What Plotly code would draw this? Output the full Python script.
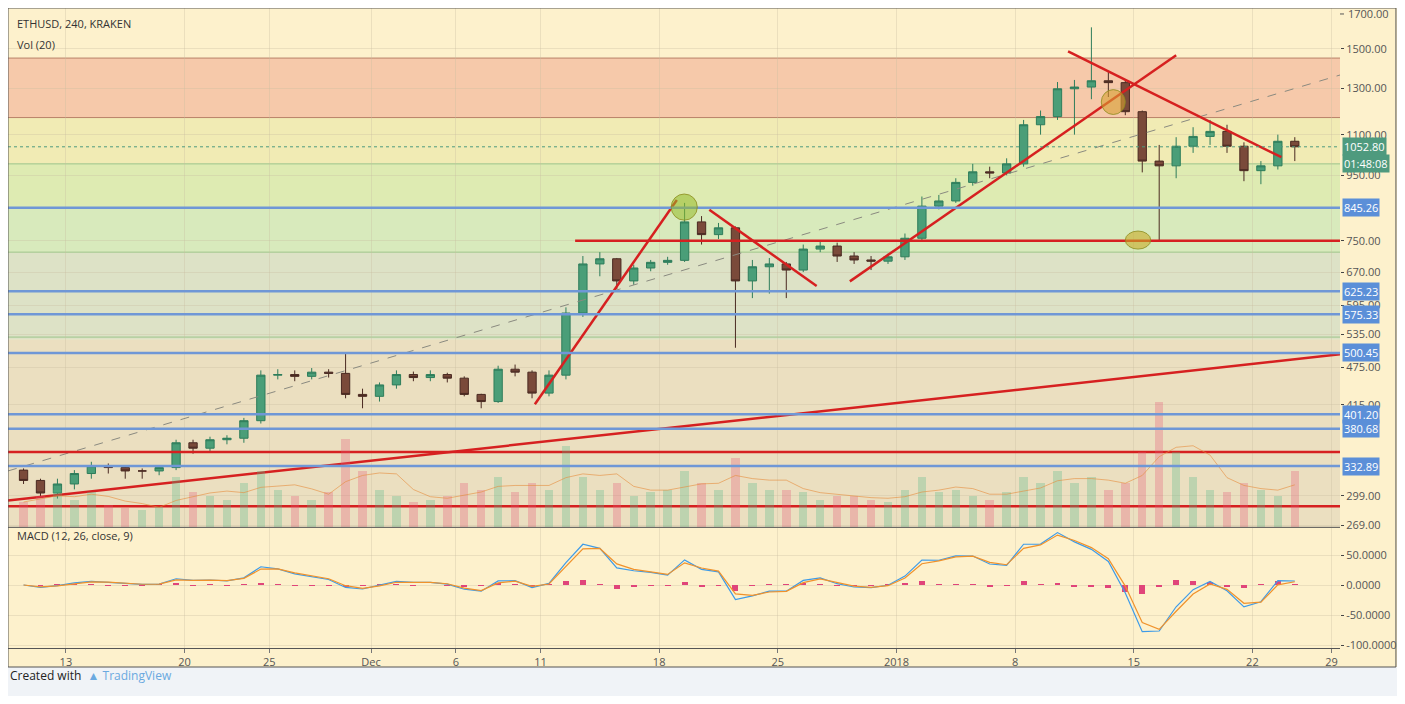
import numpy as np
import pandas as pd
import plotly.graph_objects as go

# velas diarias (ETHUSD Kraken)
datas = pd.date_range('2017-11-10 12:00', periods=76, freq='D')
fechamento = [316, 302, 312, 324, 333, 331, 327, 327, 331, 362, 355, 366, 368, 392, 462, 463, 460, 467, 465, 431, 428,
              446, 463, 458, 463, 457, 431, 420, 472, 467, 433, 462, 578, 690, 703, 649, 680, 694, 699, 803, 767, 786,
              649, 683, 690, 675, 728, 736, 710, 700, 697, 708,
              757, 850, 866, 926, 962, 958, 990, 1140, 1174, 1298, 1306, 1336, 1327, 1195, 1000, 983, 1055, 1093, 1113,
              1055, 966, 983, 1074, 1052.8]
maxima = [330, 318, 318, 328, 338, 336, 333, 330, 334, 366, 366, 370, 372, 396, 470, 472, 470, 474, 472, 499, 440,
          450, 470, 468, 470, 466, 460, 432, 478, 480, 470, 470, 590, 710, 720, 705, 688, 700, 708, 860, 820, 800,
          790, 700, 705, 695, 740, 752, 745, 720, 710, 716,
          770, 880, 885, 940, 990, 980, 1010, 1160, 1200, 1330, 1340, 1620, 1380, 1340, 1200, 1060, 1090, 1130, 1160,
          1140, 1070, 1000, 1100, 1090]
minima = [312, 298, 296, 306, 318, 324, 318, 318, 322, 328, 348, 350, 360, 362, 388, 455, 452, 455, 458, 425, 410,
          420, 440, 452, 452, 450, 428, 410, 418, 460, 425, 428, 455, 570, 660, 630, 640, 672, 688, 695, 740, 755,
          510, 610, 620, 610, 670, 720, 695, 690, 675, 690,
          700, 750, 840, 860, 915, 940, 950, 980, 1100, 1160, 1100, 1250, 1260, 1180, 960, 750, 940, 1030, 1060,
          1030, 930, 920, 970, 1000]
abertura = [328] + fechamento[:-1]
volume = [20, 25, 30, 22, 28, 18, 15, 14, 16, 40, 28, 25, 22, 35, 45, 30, 25, 22, 28, 70, 45,
          30, 25, 20, 22, 25, 35, 30, 40, 28, 35, 30, 65, 40, 30, 35, 25, 28, 30, 45, 35, 30, 55, 35, 30, 30, 28, 22,
          25, 25, 22, 20,
          30, 40, 28, 30, 25, 22, 28, 40, 35, 45, 35, 40, 30, 35, 60, 100, 60, 40, 30, 28, 35, 30, 25, 45]

# niveis e linhas desenhadas
niveis_azuis = [845.26, 625.23, 575.33, 500.45, 401.20, 380.68, 332.89]
niveis_vermelhos = [350, 288]
faixas = [(1170, 1450, '#f6c9aa'), (990, 1170, '#f1ebb4'), (845, 990, '#deebb2'), (720, 845, '#d8eabc'),
          (525, 720, '#dde2c6'), (250, 525, '#ebdfc0')]
tendencias = [
    (['2017-11-09 14:00', '2018-01-27 04:00'], [294, 498]),
    (['2017-12-10 16:00', '2017-12-19 01:00'], [416, 869]),
    (['2017-12-20 23:00', '2017-12-27 07:00'], [839, 637]),
    (['2017-12-29 06:00', '2018-01-17 12:00'], [648, 1465]),
    (['2018-01-11 03:00', '2018-01-23 17:00'], [1486, 1014]),
    (['2017-12-13 01:00', '2018-01-27 04:00'], [750, 750]),
]
tracejada = (['2017-11-09 14:00', '2018-01-27 04:00'], [327, 1364])
circulos = [('2017-12-18 17:00', '2017-12-20 06:00', 808, 888, 'rgba(150,185,40,0.55)'),
            ('2018-01-13 02:00', '2018-01-14 12:00', 1183, 1294, 'rgba(215,160,50,0.6)'),
            ('2018-01-14 12:00', '2018-01-16 00:00', 728, 777, 'rgba(200,170,40,0.6)')]

precos_eixo = [1500, 1300, 1100, 950, 750, 670, 595, 535, 475, 415, 299, 269]
preco_topo = 1700
macd_eixo = [50, 0, -50, -100]
dias_eixo = ['2017-11-13', '2017-11-20', '2017-11-25', '2017-12-01', '2017-12-06', '2017-12-11', '2017-12-18',
             '2017-12-25', '2018-01-01', '2018-01-08', '2018-01-15', '2018-01-22', '2018-01-26 16:00']
dias_texto = ['13', '20', '25', 'Dec', '6', '11', '18', '25', '2018', '8', '15', '22', '29']

# MACD (periodos de 4h convertidos para dias)
serie = pd.Series(fechamento)
ema_r = serie.ewm(span=2, adjust=False).mean()
ema_l = serie.ewm(span=26 / 6, adjust=False).mean()
macd = ema_r - ema_l
sinal = macd.ewm(span=1.5, adjust=False).mean()
hist = macd - sinal
vol_media = pd.Series(volume).rolling(4, min_periods=1).mean()

fig = go.Figure()
cores_vol = ['rgba(83,185,135,0.3)' if c >= o else 'rgba(230,90,120,0.3)' for o, c in zip(abertura, fechamento)]
fig.add_trace(go.Bar(x=datas, y=volume, marker_color=cores_vol, marker_line_width=0, yaxis='y3', width=0.5 * 86400000))
fig.add_trace(go.Scatter(x=datas, y=vol_media, mode='lines', line=dict(color='rgba(230,140,60,0.6)', width=1), yaxis='y3'))

fig.add_trace(go.Scatter(x=tracejada[0], y=tracejada[1], mode='lines', line=dict(color='#8a8a80', width=1, dash='dash')))
fig.add_trace(go.Candlestick(x=datas, open=abertura, high=maxima, low=minima, close=fechamento,
                             increasing=dict(line=dict(color='#2e7d5b', width=1), fillcolor='#4a9e78'),
                             decreasing=dict(line=dict(color='#4a2a22', width=1), fillcolor='#7a4a3a'),
                             whiskerwidth=0))
for xs, ys in tendencias:
    fig.add_trace(go.Scatter(x=xs, y=ys, mode='lines', line=dict(color='#d62020', width=2.5)))
for n in niveis_vermelhos:
    fig.add_trace(go.Scatter(x=['2017-11-09 14:00', '2018-01-27 04:00'], y=[n, n], mode='lines',
                             line=dict(color='#d62020', width=2.5)))
fig.add_trace(go.Scatter(x=['2017-11-09 14:00', '2018-01-27 04:00'], y=[1052.8, 1052.8], mode='lines',
                         line=dict(color='#4e9a7e', width=1, dash='dot')))

fig.add_trace(go.Bar(x=datas, y=hist, marker_color='#e0457a', marker_line_width=0, yaxis='y2', width=0.35 * 86400000))
fig.add_trace(go.Scatter(x=datas, y=macd, mode='lines', line=dict(color='#3d9be8', width=1.2), yaxis='y2'))
fig.add_trace(go.Scatter(x=datas, y=sinal, mode='lines', line=dict(color='#f0922b', width=1.2), yaxis='y2'))

formas = []
for y0, y1, cor in faixas:
    formas.append(dict(type='rect', xref='paper', yref='y', x0=0, x1=1, y0=y0, y1=y1, fillcolor=cor,
                       line_width=0, layer='below'))
for n in [1450, 1170]:
    formas.append(dict(type='line', xref='paper', yref='y', x0=0, x1=1, y0=n, y1=n,
                       line=dict(color='#b98268', width=1), layer='below'))
for n in [990, 720, 530]:
    formas.append(dict(type='line', xref='paper', yref='y', x0=0, x1=1, y0=n, y1=n,
                       line=dict(color='#9cc48a', width=1), layer='below'))
for n in niveis_azuis:
    formas.append(dict(type='line', xref='paper', yref='y', x0=0, x1=1, y0=n, y1=n,
                       line=dict(color='#6f97d6', width=2.5)))
for x0, x1, y0, y1, cor in circulos:
    formas.append(dict(type='circle', xref='x', yref='y', x0=x0, x1=x1, y0=y0, y1=y1, fillcolor=cor,
                       line=dict(color='rgba(140,140,30,0.8)', width=1)))
formas.append(dict(type='line', xref='paper', yref='paper', x0=0, x1=1, y0=0.1885, y1=0.1885,
                   line=dict(color='#555', width=1)))
formas.append(dict(type='rect', xref='paper', yref='paper', x0=-0.01, x1=1.06, y0=-0.0297, y1=-0.1,
                   fillcolor='#f0f3f7', line_width=0))
formas.append(dict(type='rect', xref='paper', yref='paper', x0=0, x1=1.042, y0=-0.0297, y1=1,
                   line=dict(color='#555', width=1)))
formas.append(dict(type='line', xref='paper', yref='y', x0=1, x1=1.003, y0=preco_topo, y1=preco_topo,
                   line=dict(color='#555', width=1)))

notas = [dict(text='ETHUSD, 240, KRAKEN', x=0.005, y=0.99, xref='paper', yref='paper', showarrow=False,
              xanchor='left', font=dict(size=11, color='#333')),
         dict(text='Vol (20)', x=0.005, y=0.958, xref='paper', yref='paper', showarrow=False,
              xanchor='left', font=dict(size=11, color='#333')),
         dict(text='MACD (12, 26, close, 9)', x=0.005, y=0.161, xref='paper', yref='paper', showarrow=False,
              xanchor='left', font=dict(size=11, color='#333')),
         dict(text='%.2f' % preco_topo, x=1, y=np.log10(preco_topo), xref='paper', yref='y', showarrow=False,
              xanchor='left', xshift=6, font=dict(size=11, color='#555')),
         dict(text='Created with  <span style="color:#6aa9e0">▲ TradingView</span>', x=0.0, y=-0.059,
              xref='paper', yref='paper', showarrow=False, xanchor='left', font=dict(size=12, color='#222'))]
for n in niveis_azuis:
    notas.append(dict(text='%.2f' % n, x=1, y=np.log10(n), xref='paper', yref='y', showarrow=False,
                      xanchor='left', xshift=2, bgcolor='#5b8fd8', font=dict(size=11, color='white'), borderpad=1))
notas.append(dict(text='1052.80', x=1, y=np.log10(1052.8), xref='paper', yref='y', showarrow=False,
                  xanchor='left', xshift=2, bgcolor='#4e9a7e', font=dict(size=11, color='white'), borderpad=1))
notas.append(dict(text='01:48:08', x=1, y=np.log10(1052.8), xref='paper', yref='y', showarrow=False, yshift=-17,
                  xanchor='left', xshift=2, bgcolor='#4e9a7e', font=dict(size=11, color='white'), borderpad=1))

fig.update_layout(
    width=1389, height=688, margin=dict(l=0, r=57, t=0, b=48, autoexpand=False),
    paper_bgcolor='#fdf1cc', plot_bgcolor='#fdf1cc', showlegend=False, bargap=0,
    font=dict(family='Open Sans, Arial', size=11, color='#555'),
    shapes=formas, annotations=notas,
    xaxis=dict(type='date', range=['2017-11-09 14:00', '2018-01-27 04:00'], anchor='y2', automargin=False,
               tickvals=dias_eixo, ticktext=dias_texto, ticks='outside', ticklen=4, tickcolor='#777',
               showgrid=True, gridcolor='rgba(200,190,160,0.35)', rangeslider=dict(visible=False),
               showline=True, linecolor='#555', zeroline=False),
    yaxis=dict(type='log', domain=[0.189, 1], range=[2.4267, 3.2398], side='right', automargin=False,
               tickvals=precos_eixo, ticktext=['%.2f' % p for p in precos_eixo], ticks='outside', ticklen=3,
               showgrid=True, gridcolor='rgba(200,190,160,0.35)', zeroline=False),
    yaxis2=dict(domain=[0, 0.1875], range=[-105, 95], side='right', tickvals=macd_eixo, automargin=False,
                ticktext=['%.4f' % v for v in macd_eixo], ticks='outside', ticklen=3,
                showgrid=True, gridcolor='rgba(200,190,160,0.35)', zeroline=False),
    yaxis3=dict(overlaying='y', range=[0, 415], visible=False),
)
fig.write_html('out.html')
